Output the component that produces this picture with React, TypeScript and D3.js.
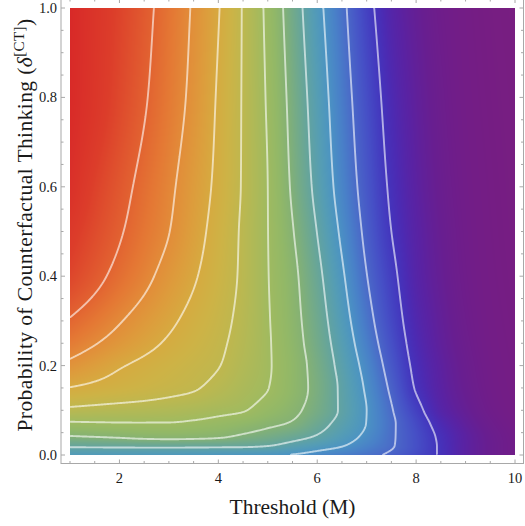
import React, { useMemo } from "react";
import * as d3 from "d3";

// Threshold (M) grid columns
const thresholds = [1, 1.5, 2, 2.5, 3, 3.5, 4, 4.5, 5, 5.5, 6, 6.5, 7, 7.5, 8, 8.5, 9, 9.5, 10];
// Probability of counterfactual thinking grid rows
const probabilities = [0, 0.02, 0.04, 0.07, 0.1, 0.15, 0.2, 0.25, 0.3, 0.4, 0.5, 0.6, 0.8, 1.0];
// Surface values, one row per probability, one column per threshold
const surface = [
  [3.35, 3.33, 3.3, 3.27, 3.24, 3.2, 3.15, 3.1, 3.06, 2.95, 2.7, 2.45, 2.2, 1.86, 1.39, 0.93, 0.5, 0.29, 0.17],
  [4.1, 4.12, 4.14, 4.16, 4.17, 4.16, 4.14, 4.11, 4.0, 3.68, 3.35, 3.03, 2.56, 2.07, 1.49, 0.92, 0.5, 0.29, 0.17],
  [4.91, 4.98, 5.06, 5.16, 5.2, 5.16, 5.07, 4.83, 4.58, 4.27, 3.9, 3.38, 2.8, 2.11, 1.48, 0.89, 0.49, 0.28, 0.165],
  [5.86, 5.9, 5.93, 5.94, 5.94, 5.85, 5.69, 5.46, 5.18, 4.91, 4.34, 3.7, 2.98, 2.14, 1.39, 0.76, 0.42, 0.24, 0.14],
  [6.8, 6.72, 6.65, 6.6, 6.52, 6.39, 6.22, 6.05, 5.63, 5.2, 4.62, 3.87, 3.0, 2.06, 1.21, 0.6, 0.35, 0.2, 0.12],
  [7.97, 7.79, 7.61, 7.43, 7.25, 7.07, 6.77, 6.39, 6.02, 5.42, 4.73, 3.84, 2.88, 1.86, 0.95, 0.51, 0.296, 0.172, 0.104],
  [8.79, 8.44, 8.08, 7.8, 7.54, 7.29, 7.03, 6.57, 6.09, 5.44, 4.66, 3.71, 2.7, 1.67, 0.85, 0.47, 0.27, 0.158, 0.095],
  [9.44, 9.05, 8.65, 8.26, 7.88, 7.52, 7.16, 6.68, 6.09, 5.37, 4.53, 3.55, 2.48, 1.5, 0.76, 0.42, 0.244, 0.144, 0.087],
  [9.93, 9.51, 9.06, 8.62, 8.17, 7.72, 7.28, 6.75, 6.07, 5.31, 4.43, 3.39, 2.3, 1.36, 0.69, 0.39, 0.224, 0.134, 0.08],
  [10.77, 10.25, 9.73, 9.22, 8.67, 8.1, 7.49, 6.84, 6.03, 5.22, 4.23, 3.12, 2.02, 1.17, 0.59, 0.34, 0.196, 0.118, 0.07],
  [11.2, 10.63, 10.09, 9.55, 9.02, 8.36, 7.64, 6.86, 6.01, 5.05, 3.98, 2.85, 1.81, 1.0, 0.54, 0.31, 0.18, 0.108, 0.063],
  [11.6, 10.9, 10.31, 9.74, 9.17, 8.51, 7.78, 6.92, 6.0, 4.88, 3.75, 2.63, 1.66, 0.9, 0.49, 0.28, 0.165, 0.1, 0.058],
  [11.9, 11.33, 10.71, 10.09, 9.46, 8.77, 7.9, 6.93, 5.9, 4.71, 3.53, 2.41, 1.46, 0.75, 0.42, 0.24, 0.14, 0.084, 0.049],
  [11.95, 11.4, 10.85, 10.25, 9.6, 8.9, 8.05, 6.94, 5.79, 4.51, 3.28, 2.2, 1.23, 0.6, 0.35, 0.2, 0.12, 0.07, 0.04],
];
const contourLevels = [1, 2, 3, 4, 5, 6, 7, 8, 9, 10];

const xTickValues = [2, 4, 6, 8, 10];
const yTickValues = [0, 0.2, 0.4, 0.6, 0.8, 1.0];

// Rainbow palette (value -> colour)
const paletteStops = [0, 0.15, 0.3, 0.5, 0.75, 1, 1.5, 2, 2.5, 3, 3.5, 4, 4.5, 5, 5.5, 6, 6.5, 7, 7.5, 8, 8.5, 9, 9.5, 10, 11, 12];
const paletteColors = [
  "#7A1E7E", "#721D87", "#681E90", "#5A22A2", "#4C2AB2", "#4335BD", "#4650C6", "#4A68C8",
  "#4980C8", "#4B93C3", "#559DB4", "#62A3A0", "#72AA8A", "#84B174", "#92B867", "#9FBA60",
  "#AFB957", "#BFB74E", "#CDB346", "#D6AA40", "#DD9C3C", "#E28C39", "#E47834", "#E26331",
  "#DC3D2A", "#D82828",
];

// Monotone cubic (Fritsch–Carlson) interpolator through (xs, ys)
function monotoneInterpolator(xs: number[], ys: number[]) {
  const n = xs.length;
  const dxs: number[] = [], ms: number[] = [];
  for (let i = 0; i < n - 1; i++) {
    dxs.push(xs[i + 1] - xs[i]);
    ms.push((ys[i + 1] - ys[i]) / (xs[i + 1] - xs[i]));
  }
  const c1: number[] = [ms[0]];
  for (let i = 0; i < n - 2; i++) {
    const m = ms[i], mNext = ms[i + 1];
    if (m * mNext <= 0) c1.push(0);
    else {
      const common = dxs[i] + dxs[i + 1];
      c1.push((3 * common) / ((common + dxs[i + 1]) / m + (common + dxs[i]) / mNext));
    }
  }
  c1.push(ms[n - 2]);
  const c2: number[] = [], c3: number[] = [];
  for (let i = 0; i < n - 1; i++) {
    const c = c1[i], m = ms[i], inv = 1 / dxs[i], common = c + c1[i + 1] - 2 * m;
    c2.push((m - c - common) * inv);
    c3.push(common * inv * inv);
  }
  return (v: number) => {
    const i = Math.max(0, Math.min(n - 2, d3.bisectRight(xs, v) - 1));
    const d = v - xs[i];
    return ys[i] + c1[i] * d + c2[i] * d * d + c3[i] * d * d * d;
  };
}

export default function App() {
  const W = 525, H = 526;
  const plot = { left: 70, right: 515, top: 8, bottom: 455 };
  const frame = { left: 61, right: 523.5, top: -1, bottom: 463.5 };
  const x = d3.scaleLinear().domain([1, 10]).range([plot.left, plot.right]);
  const y = d3.scaleLinear().domain([0, 1]).range([plot.bottom, plot.top]);
  const color = d3
    .scaleLinear<string>()
    .domain(paletteStops)
    .range(paletteColors)
    .interpolate(d3.interpolateRgb)
    .clamp(true);
  const pw = Math.round(plot.right - plot.left);
  const ph = Math.round(plot.bottom - plot.top);

  const { href, paths } = useMemo(() => {
    const values = new Float64Array(pw * ph);
    const rowInterps = surface.map((row) => monotoneInterpolator(thresholds, row));
    const yVals: number[] = [];
    for (let j = 0; j < ph; j++) yVals.push(y.invert(plot.top + j + 0.5));
    for (let i = 0; i < pw; i++) {
      const xv = x.invert(plot.left + i + 0.5);
      const colVals = rowInterps.map((f) => f(xv));
      const colInterp = monotoneInterpolator(probabilities, colVals);
      for (let j = 0; j < ph; j++) values[j * pw + i] = colInterp(yVals[j]);
    }
    const lutN = 2400, lutMax = 12;
    const lut = new Uint8Array(lutN * 3);
    for (let k = 0; k < lutN; k++) {
      const c = d3.rgb(color((k / (lutN - 1)) * lutMax));
      lut[k * 3] = c.r; lut[k * 3 + 1] = c.g; lut[k * 3 + 2] = c.b;
    }
    let href = "";
    const canvas = document.createElement("canvas");
    canvas.width = pw;
    canvas.height = ph;
    const ctx = canvas.getContext("2d");
    if (ctx) {
      const img = ctx.createImageData(pw, ph);
      for (let k = 0; k < pw * ph; k++) {
        const idx = Math.max(0, Math.min(lutN - 1, Math.round((values[k] / lutMax) * (lutN - 1))));
        img.data[4 * k] = lut[idx * 3];
        img.data[4 * k + 1] = lut[idx * 3 + 1];
        img.data[4 * k + 2] = lut[idx * 3 + 2];
        img.data[4 * k + 3] = 255;
      }
      ctx.putImageData(img, 0, 0);
      href = canvas.toDataURL();
    }
    const gen = d3.contours().size([pw, ph]).thresholds(contourLevels);
    const polys = gen(Array.from(values));
    const eps = 1e-6;
    const onEdge = (p: number[]) =>
      p[0] <= eps || p[0] >= pw - eps || p[1] <= eps || p[1] >= ph - eps;
    const paths = polys.map((g) => {
      let d = "";
      g.coordinates.forEach((poly) =>
        poly.forEach((ring) => {
          let pen = false;
          for (let k = 1; k < ring.length; k++) {
            const a = ring[k - 1], b = ring[k];
            if (onEdge(a) && onEdge(b)) { pen = false; continue; }
            if (!pen) { d += `M${(plot.left + a[0]).toFixed(2)},${(plot.top + a[1]).toFixed(2)}`; pen = true; }
            d += `L${(plot.left + b[0]).toFixed(2)},${(plot.top + b[1]).toFixed(2)}`;
          }
        })
      );
      return d;
    });
    return { href, paths };
  }, []);

  const xMinor = d3.range(1, 10.001, 0.5);
  const yMinor = d3.range(0, 1.0001, 0.05);
  const frameColor = "#a8a8a8";
  const font = "'Liberation Serif', 'Times New Roman', serif";
  const fmt = d3.format(".1f");

  return (
    <svg
      width={W}
      height={H}
      viewBox={`0 0 ${W} ${H}`}
      style={{ position: "absolute", left: 0, top: 0, background: "#fff" }}
    >
      <defs>
        <clipPath id="plotClip">
          <rect x={plot.left} y={plot.top} width={pw} height={ph} />
        </clipPath>
      </defs>
      {href && (
        <image href={href} x={plot.left} y={plot.top} width={pw} height={ph} preserveAspectRatio="none" />
      )}
      <g clipPath="url(#plotClip)" fill="none" stroke="#ffffff" strokeOpacity={0.6} strokeWidth={1.9} strokeLinejoin="round">
        {paths.map((d, i) => (
          <path key={i} d={d} />
        ))}
      </g>
      <rect
        x={frame.left}
        y={frame.top}
        width={frame.right - frame.left}
        height={frame.bottom - frame.top}
        fill="none"
        stroke={frameColor}
        strokeWidth={1}
      />
      <g stroke={frameColor} strokeWidth={1}>
        {xMinor.map((v) => {
          const major = xTickValues.includes(v);
          const len = major ? 4 : 2.5;
          return (
            <g key={`xt${v}`}>
              <line x1={x(v)} x2={x(v)} y1={frame.bottom} y2={frame.bottom - len} />
              <line x1={x(v)} x2={x(v)} y1={frame.top} y2={frame.top + len} />
            </g>
          );
        })}
        {yMinor.map((v) => {
          const major = yTickValues.some((t) => Math.abs(t - v) < 1e-6);
          const len = major ? 4 : 2.5;
          return (
            <g key={`yt${v}`}>
              <line x1={frame.left} x2={frame.left + len} y1={y(v)} y2={y(v)} />
              <line x1={frame.right} x2={frame.right - len} y1={y(v)} y2={y(v)} />
            </g>
          );
        })}
      </g>
      <g fontFamily={font} fontSize={14.5} fill="#1a1a1a">
        {xTickValues.map((v) => (
          <text key={`xl${v}`} x={x(v)} y={483} textAnchor="middle">
            {v}
          </text>
        ))}
        {yTickValues.map((v) => (
          <text key={`yl${v}`} x={57} y={y(v)} dy="0.35em" textAnchor="end">
            {fmt(v)}
          </text>
        ))}
      </g>
      <text x={(plot.left + plot.right) / 2} y={514} textAnchor="middle" fontFamily={font} fontSize={21.5} fill="#1a1a1a">
        Threshold (M)
      </text>
      <text
        transform={`translate(32,225) rotate(-90)`}
        textAnchor="middle"
        fontFamily={font}
        fontSize={21.5}
        letterSpacing={0.4}
        fill="#1a1a1a"
      >
        Probability of Counterfactual Thinking (<tspan fontStyle="italic">δ</tspan>
        <tspan dy={-8} fontSize={15}>[CT]</tspan>
        <tspan dy={8}>)</tspan>
      </text>
    </svg>
  );
}
